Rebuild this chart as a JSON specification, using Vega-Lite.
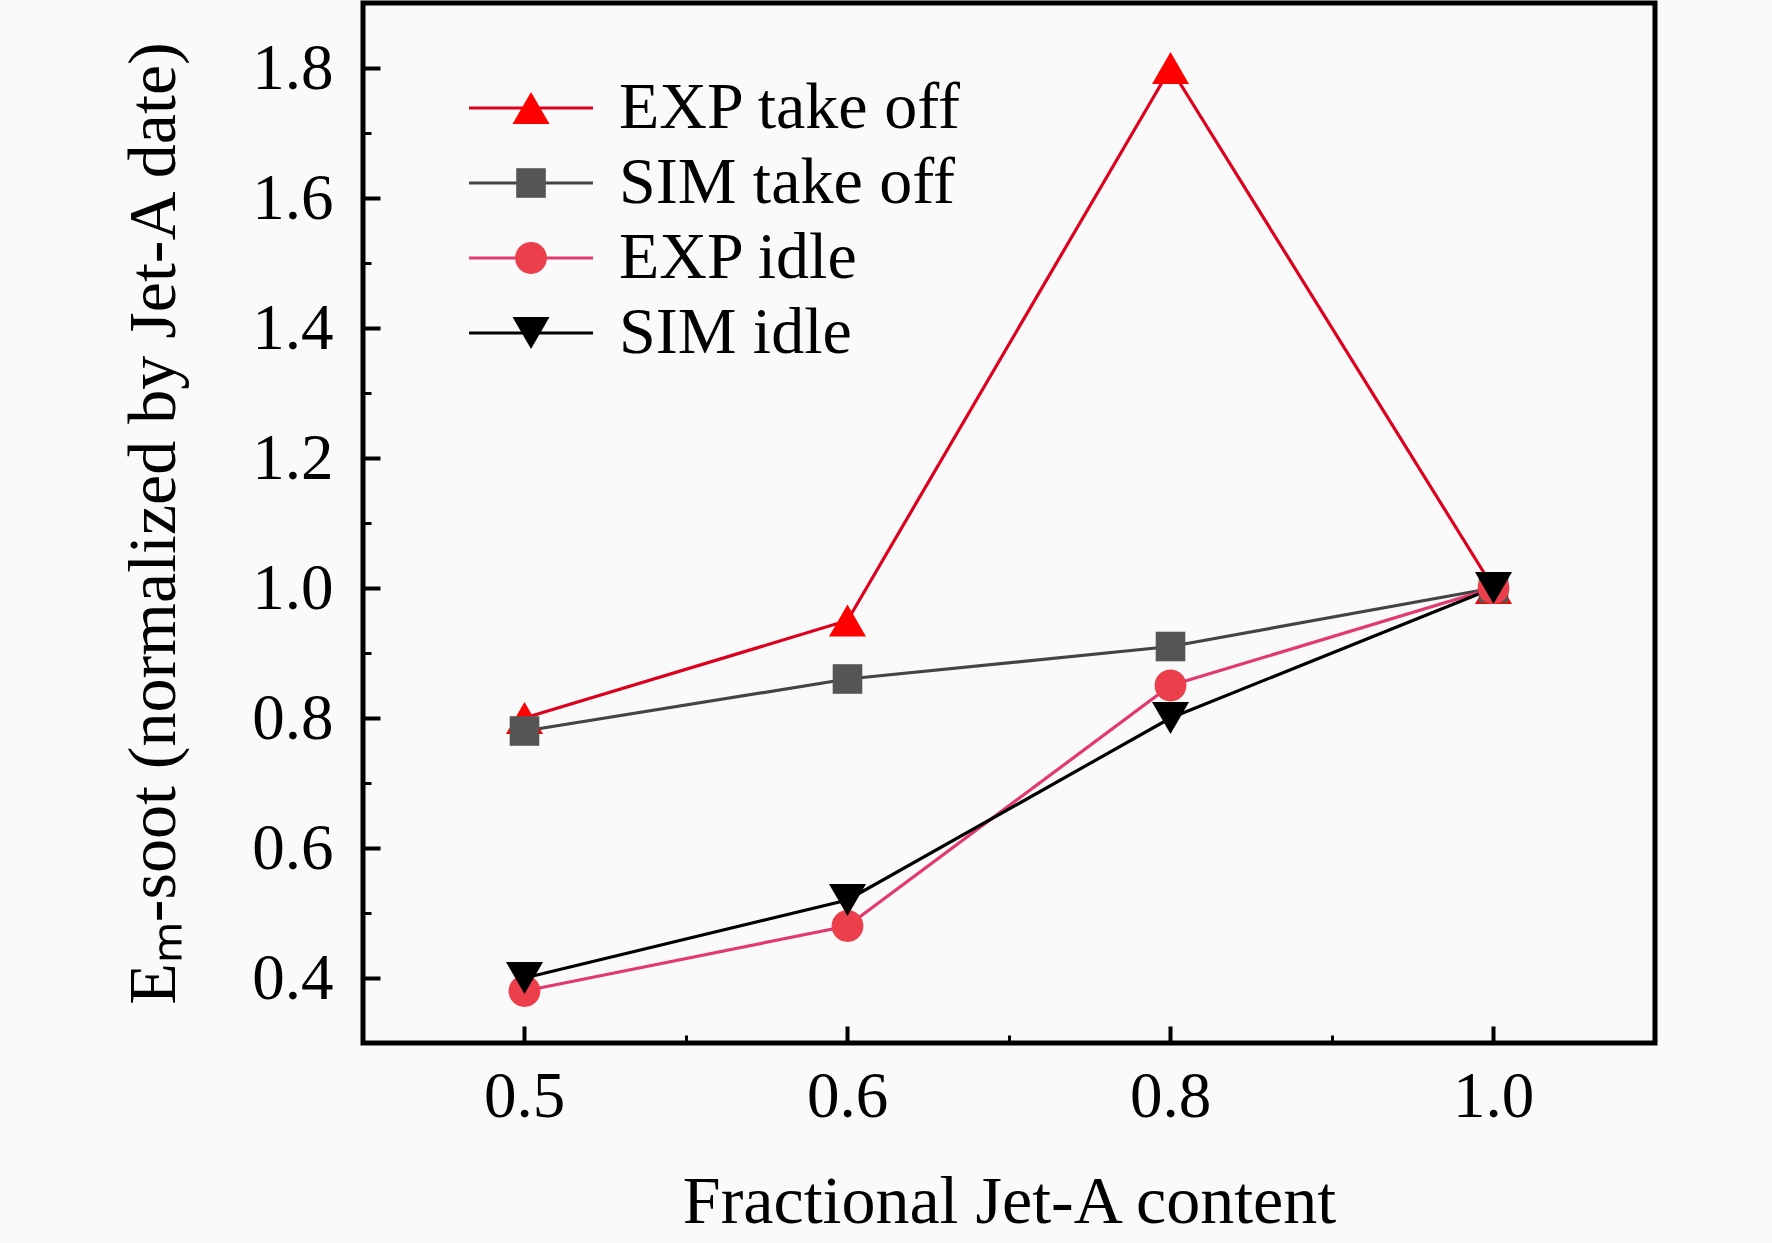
{
  "$schema": "https://vega.github.io/schema/vega-lite/v6.json",
  "width": 1292,
  "height": 1040,
  "autosize": {"type": "none"},
  "padding": {"left": 363, "top": 3, "right": 117, "bottom": 200},
  "background": "#fafafa",
  "config": {
    "view": {"stroke": "black", "strokeWidth": 5},
    "font": "Liberation Serif",
    "axis": {
      "domain": false,
      "grid": false,
      "tickColor": "black",
      "labelColor": "black",
      "titleColor": "black",
      "labelFont": "Liberation Serif",
      "titleFont": "Liberation Serif",
      "labelFontSize": 65,
      "titleFontSize": 68,
      "titleFontWeight": "normal"
    }
  },
  "data": {
    "values": [
      {"series": "EXP take off", "content": "0.5", "value": 0.80},
      {"series": "EXP take off", "content": "0.6", "value": 0.95},
      {"series": "EXP take off", "content": "0.8", "value": 1.80},
      {"series": "EXP take off", "content": "1.0", "value": 1.00},
      {"series": "SIM take off", "content": "0.5", "value": 0.78},
      {"series": "SIM take off", "content": "0.6", "value": 0.86},
      {"series": "SIM take off", "content": "0.8", "value": 0.91},
      {"series": "SIM take off", "content": "1.0", "value": 1.00},
      {"series": "EXP idle", "content": "0.5", "value": 0.38},
      {"series": "EXP idle", "content": "0.6", "value": 0.48},
      {"series": "EXP idle", "content": "0.8", "value": 0.85},
      {"series": "EXP idle", "content": "1.0", "value": 1.00},
      {"series": "SIM idle", "content": "0.5", "value": 0.40},
      {"series": "SIM idle", "content": "0.6", "value": 0.52},
      {"series": "SIM idle", "content": "0.8", "value": 0.80},
      {"series": "SIM idle", "content": "1.0", "value": 1.00}
    ]
  },
  "layer": [
    {
      "mark": {"type": "line", "strokeWidth": 3.2},
      "encoding": {
        "x": {
          "field": "content",
          "type": "ordinal",
          "scale": {"type": "band", "domain": ["0.5", "0.6", "0.8", "1.0"], "paddingInner": 0, "paddingOuter": 0},
          "axis": {
            "orient": "bottom",
            "title": "Fractional Jet-A content",
            "labelAngle": 0,
            "tickSize": -17,
            "tickWidth": 4,
            "labelPadding": 39,
            "titleY": 179,
            "titleBaseline": "alphabetic"
          }
        },
        "y": {
          "field": "value",
          "type": "quantitative",
          "scale": {"domain": [0.3, 1.9], "nice": false, "zero": false},
          "axis": {
            "orient": "left",
            "title": "Eₘ-soot (normalized by Jet-A date)",
            "values": [0.4, 0.6, 0.8, 1.0, 1.2, 1.4, 1.6, 1.8],
            "format": ".1f",
            "tickSize": -17,
            "tickWidth": 4,
            "labelPadding": 47,
            "titleX": -189,
            "titleBaseline": "alphabetic"
          }
        },
        "stroke": {
          "field": "series",
          "type": "nominal",
          "sort": ["EXP take off", "SIM take off", "EXP idle", "SIM idle"],
          "scale": {"range": ["#dc001e", "#444444", "#e33a6e", "#000000"]},
          "legend": {
            "title": null,
            "orient": "none",
            "legendX": 135,
            "legendY": 72,
            "padding": 0,
            "labelFont": "Liberation Serif",
            "labelFontSize": 66,
            "labelColor": "black",
            "labelLimit": 1000,
            "labelOffset": 55,
            "rowPadding": 9,
            "symbolType": "M-3.35,0H3.35",
            "symbolSize": 1369,
            "symbolStrokeWidth": 3,
            "symbolFillColor": "transparent",
            "symbolOpacity": 1
          }
        }
      }
    },
    {
      "mark": {"type": "point", "filled": true, "opacity": 1, "size": 1369},
      "encoding": {
        "x": {
          "field": "content",
          "type": "ordinal",
          "axis": {"orient": "bottom", "tickBand": "extent", "labels": false, "title": null, "tickSize": -8, "tickWidth": 3}
        },
        "y": {
          "field": "value",
          "type": "quantitative",
          "axis": {"orient": "left", "values": [0.5, 0.7, 0.9, 1.1, 1.3, 1.5, 1.7], "labels": false, "title": null, "tickSize": -8, "tickWidth": 3}
        },
        "fill": {
          "field": "series",
          "type": "nominal",
          "scale": {
            "domain": ["EXP take off", "SIM take off", "EXP idle", "SIM idle"],
            "range": ["#ff0000", "#555555", "#ec3f4c", "#000000"]
          },
          "legend": {
            "title": null,
            "orient": "none",
            "legendX": 135,
            "legendY": 72,
            "padding": 0,
            "labelFont": "Liberation Serif",
            "labelFontSize": 66,
            "labelColor": "transparent",
            "labelLimit": 1000,
            "labelOffset": 55,
            "rowPadding": 9,
            "symbolSize": 1369,
            "symbolOpacity": 1
          }
        },
        "shape": {
          "field": "series",
          "type": "nominal",
          "scale": {
            "domain": ["EXP take off", "SIM take off", "EXP idle", "SIM idle"],
            "range": ["triangle-up", "M-0.8,-0.8H0.8V0.8H-0.8Z", "M0.86,0A0.86,0.86,0,1,1,-0.86,0A0.86,0.86,0,1,1,0.86,0Z", "triangle-down"]
          }
        }
      }
    }
  ],
  "resolve": {"axis": {"x": "independent", "y": "independent"}}
}
